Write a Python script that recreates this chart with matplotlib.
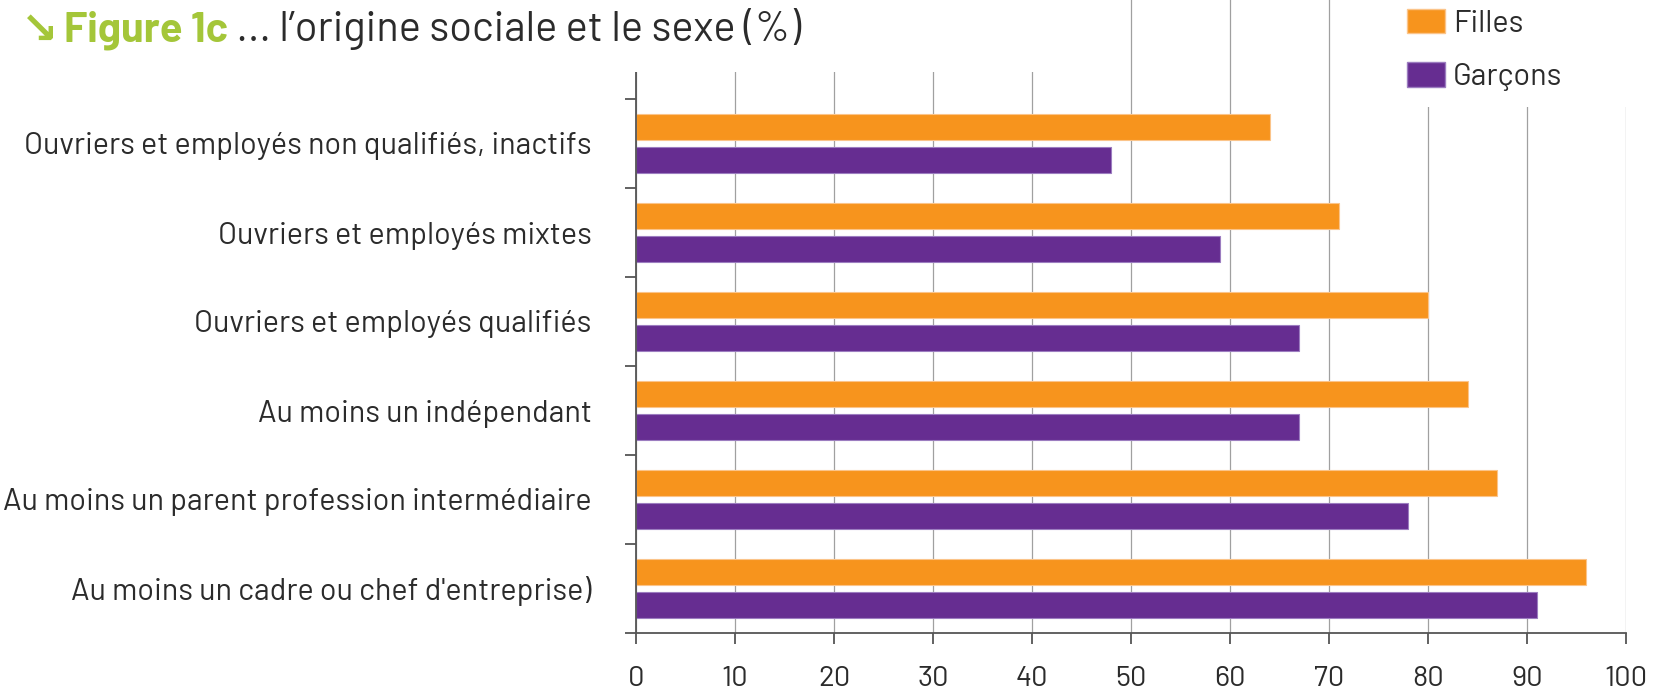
import matplotlib
matplotlib.use("Agg")
import matplotlib.pyplot as plt
from matplotlib.patches import Rectangle, Patch
import numpy as np

plt.rcParams['font.family'] = ['Barlow', 'DejaVu Sans']

# data (top to bottom)
categories = [
    "Ouvriers et employés non qualifiés, inactifs",
    "Ouvriers et employés mixtes",
    "Ouvriers et employés qualifiés",
    "Au moins un indépendant",
    "Au moins un parent profession intermédiaire",
    "Au moins un cadre ou chef d'entreprise)",
]
filles = [64, 71, 80, 84, 87, 96]
garcons = [48, 59, 67, 67, 78, 91]
series_names = ["Filles", "Garçons"]
xticks = list(range(0, 101, 10))

orange = "#F7941D"
purple = "#662D91"
green = "#A4C639"
txt = "#2B2B2B"

W, H = 1654, 691
fig = plt.figure(figsize=(W / 100, H / 100), dpi=100)
ax = fig.add_axes([636 / W, 1 - 633 / H, 990 / W, 633 / H])

n = len(categories)
centers = n - 0.5 - np.arange(n)
off, bh = 0.185, 0.30
ax.barh(centers + off, filles, height=bh, color=orange, edgecolor="#FBC48A", linewidth=0.8, zorder=2)
ax.barh(centers - off, garcons, height=bh, color=purple, edgecolor="#9C7DC0", linewidth=0.8, zorder=2)

ax.set_xlim(0, 100)
ax.set_ylim(0, 633 / 89)
ax.set_xticks(xticks)
ax.set_xticklabels([str(v) for v in xticks], fontsize=21, color=txt)
ax.set_yticks(range(0, n + 1))
ax.set_yticklabels([])
ax.set_yticks(centers, minor=True)
ax.set_yticklabels(categories, minor=True, fontsize=22, color=txt)
ax.tick_params(axis="y", which="major", direction="out", length=8, width=1.3, color="#555555")
ax.tick_params(axis="y", which="minor", length=0, pad=32)
ax.tick_params(axis="x", direction="out", length=8, width=1.3, color="#555555", pad=16)

for s in ["top", "right"]:
    ax.spines[s].set_visible(False)
for s in ["left", "bottom"]:
    ax.spines[s].set_color("#555555")
    ax.spines[s].set_linewidth(1.3)

ax.grid(axis="x", color="#A0A0A0", linewidth=0.9, zorder=0)
ax.set_axisbelow(True)

# white boxes of the title and legend areas
fig.patches.append(Rectangle((0, 1 - 72 / H), 1085 / W, 72 / H, transform=fig.transFigure,
                             facecolor="white", edgecolor="none", zorder=1))
fig.patches.append(Rectangle((1385 / W, 1 - 107 / H), (W - 1385) / W, 107 / H, transform=fig.transFigure,
                             facecolor="white", edgecolor="none", zorder=1))

# title, in three pieces
fig.canvas.draw()
r = fig.canvas.get_renderer()
ty = 1 - 41 / H
x = 21 / W
t1 = fig.text(x, ty - 2 / H, "↘", fontsize=32, color=green, fontweight="bold", va="baseline",
              family=["DejaVu Sans"], zorder=3)
x += (t1.get_window_extent(r).width + 6) / W
t2 = fig.text(x, ty, "Figure 1c", fontsize=30, color=green, fontweight="bold", va="baseline", zorder=3)
x += t2.get_window_extent(r).width / W
fig.text(x, ty, " ... l’origine sociale et le sexe (%)", fontsize=30, color=txt, va="baseline", zorder=3)

handles = [Patch(facecolor=orange, edgecolor="#FBC48A"), Patch(facecolor=purple, edgecolor="#9C7DC0")]
fig.legend(handles, series_names, loc="upper left", bbox_to_anchor=(1407 / W, 1 - 9 / H),
           frameon=False, fontsize=22, handlelength=1.25, handleheight=0.85, handletextpad=0.25,
           labelspacing=0.8, borderpad=0, borderaxespad=0, labelcolor=txt)

fig.savefig("out.png", dpi=100)
